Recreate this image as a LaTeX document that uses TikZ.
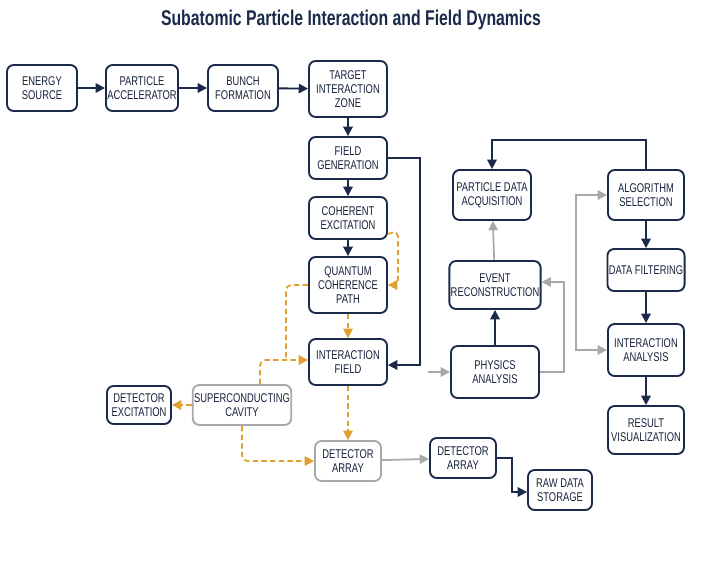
\documentclass[tikz,border=0pt]{standalone}
\usepackage{fontspec}
\setmainfont[FakeStretch=0.74]{Liberation Sans}
\usetikzlibrary{arrows.meta}
\definecolor{navy}{HTML}{1B2A4A}
\definecolor{org}{HTML}{E0A030}
\definecolor{gr}{HTML}{A8A8A8}
\tikzset{
 bx/.style={draw=navy,line width=1.4pt,rounded corners=5pt,fill=white,align=center,font=\fontsize{9.5}{10.5}\selectfont,text=navy!80!black,inner sep=1pt},
 gbx/.style={bx,draw=gr},
 na/.style={draw=navy,line width=1.4pt,-{Triangle[length=7pt,width=7pt]}},
 oa/.style={draw=org,line width=1.3pt,dashed,dash pattern=on 4pt off 2.5pt,-{Triangle[length=7pt,width=7pt]},rounded corners=4pt},
 ol/.style={draw=org,line width=1.3pt,dashed,dash pattern=on 4pt off 2.5pt,rounded corners=4pt},
 ga/.style={draw=gr,line width=1.3pt,-{Triangle[length=7pt,width=7pt]}},
}
\begin{document}
\begin{tikzpicture}[x=0.75pt,y=-0.75pt]
\useasboundingbox (0,0) rectangle (702,562);
\fill[white] (0,0) rectangle (702,562);
\node[font=\bfseries\fontsize{16}{17}\selectfont,text=navy] (title) at (351,20) {Subatomic Particle Interaction and Field Dynamics};
\def\nb(#1,#2,#3,#4,#5,#6){\node[#6,minimum width=#4*0.75pt,minimum height=#5*0.75pt] (#1) at (#2,#3)}
\nb(es,42,88,70,46,bx) {ENERGY\\SOURCE};
\nb(pa,142,88,72,46,bx) {PARTICLE\\ACCELERATOR};
\nb(bf,243,88,70,46,bx) {BUNCH\\FORMATION};
\nb(tiz,348,89,78,56,bx) {TARGET\\INTERACTION\\ZONE};
\nb(fg,348,158,78,42,bx) {FIELD\\GENERATION};
\nb(ce,348,218,78,42,bx) {COHERENT\\EXCITATION};
\nb(qcp,348,285,78,56,bx) {QUANTUM\\COHERENCE\\PATH};
\nb(if,348,362,78,46,bx) {INTERACTION\\FIELD};
\nb(sc,242,405,96,40,gbx) {SUPERCONDUCTING\\CAVITY};
\nb(de,139,405,64,38,bx) {DETECTOR\\EXCITATION};
\nb(da1,348,461,66,40,gbx) {DETECTOR\\ARRAY};
\nb(da2,463,458,66,40,bx) {DETECTOR\\ARRAY};
\nb(rds,560,490,64,40,bx) {RAW DATA\\STORAGE};
\nb(pda,492,195,78,50,bx) {PARTICLE DATA\\ACQUISITION};
\nb(er,495,285,88,48,bx) {EVENT\\RECONSTRUCTION};
\nb(pha,495,372,88,52,bx) {PHYSICS\\ANALYSIS};
\nb(as,646,195,76,50,bx) {ALGORITHM\\SELECTION};
\nb(df,646,270,76,42,bx) {DATA FILTERING};
\nb(ia,646,350,76,52,bx) {INTERACTION\\ANALYSIS};
\nb(rv,646,430,76,48,bx) {RESULT\\VISUALIZATION};
\draw[na] (es)--(pa); \draw[na] (pa)--(bf); \draw[na] (bf)--(tiz);
\draw[na] (tiz)--(fg); \draw[na] (fg)--(ce); \draw[na] (ce)--(qcp);
\draw[na] (fg.east) -- (420,158) -- (420,365) -- (if.east|-0,365);
\draw[oa] ([yshift=-12pt]ce.east) -- (398,231) -- (398,285) -- (qcp.east);
\draw[oa] (qcp)--(if);
\draw[ol] (qcp.west) -- (286,285) -- (286,360);
\draw[oa] (sc.north-|260,0) -- (260,360) -- (if.west|-0,360);
\draw[oa] (sc)--(de);
\draw[oa] (sc.south) -- (242,461) -- (da1.west);
\draw[oa] (if)--(da1);
\draw[ga] (da1)--(da2);
\draw[na,rounded corners=0pt] (da2.east) -- (512,458) -- (512,492) -- (rds.west|-0,492);
\coordinate (gs) at (428,372);
\draw[ga] (gs)--(pha);
\draw[na] (pha)--(er);
\draw[ga] (er)--(pda);
\draw[ga] (pha.east) -- (564,372) -- (564,282) -- (er.east|-0,282);
\draw[ga,{Triangle[length=7pt,width=7pt]}-{Triangle[length=7pt,width=7pt]}] (as.west) -- (576,195) -- (576,350) -- (ia.west);
\draw[na] (as.north) -- (646,140) -- (492,140) -- (pda.north);
\draw[na] (as)--(df); \draw[na] (df)--(ia); \draw[na] (ia)--(rv);
\end{tikzpicture}
\end{document}
